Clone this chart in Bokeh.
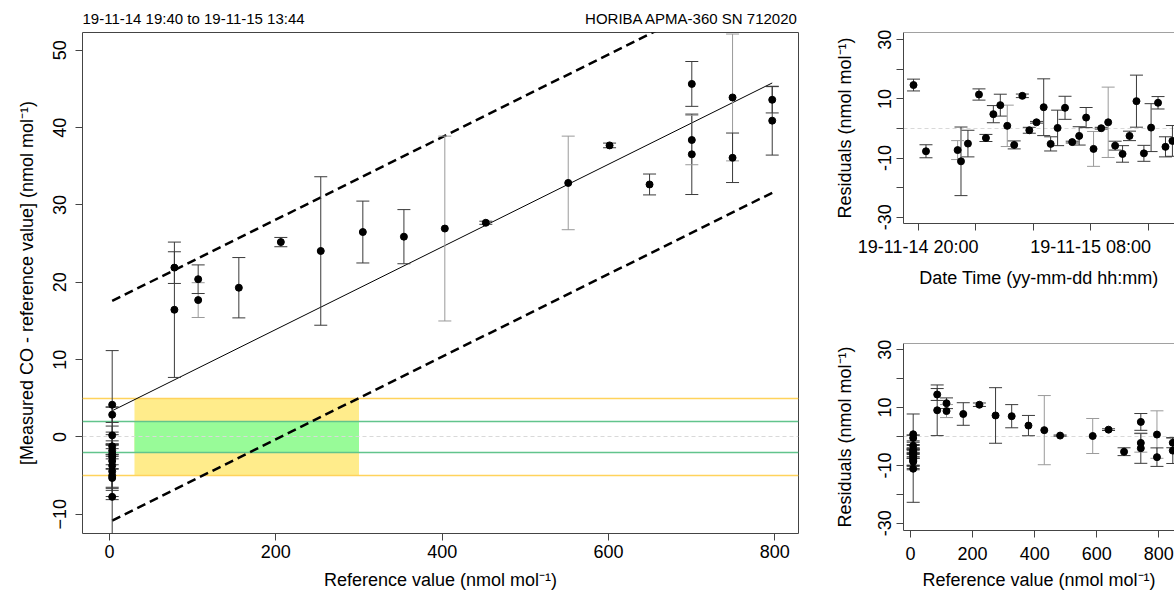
import pandas as pd
from bokeh.plotting import figure
from bokeh.layouts import row, column
from bokeh.models import ColumnDataSource, Range1d, FixedTicker, Span
from bokeh.core.properties import value
from bokeh.embed import file_html
from bokeh.resources import INLINE

FONT = "Liberation Sans"
INK = "#3a3a3a"
PALE = "#9a9a9a"
FRAME = "#444444"

# --- calibration points: reference value, measured - reference, uncertainty
ref_value = [3.2, 3.2, 3.2, 3.2, 3.2, 3.2, 3.2, 3.2, 3.2, 3.2, 3.2, 3.2, 3.2,
             78.0, 78.0, 106.6, 106.6, 155.5, 206.0, 254.0, 304.6, 354.0, 403.2,
             452.5, 551.6, 601.3, 649.4, 700.2, 700.2, 700.2, 749.2, 749.2,
             796.9, 796.9]
co_diff = [4.17, 2.88, 0.21, -1.21, -1.77, -2.24, -2.58, -3.1, -3.7, -4.44, -5.0, -5.3, -7.74,
           21.9, 16.45, 20.4, 17.7, 19.3, 25.2, 24.05, 26.5, 25.9, 26.95,
           27.7, 32.85, 37.7, 32.65, 45.65, 38.4, 36.55, 43.9, 36.1,
           43.6, 40.9]
co_unc = [7.0, 1.0, 1.2, 0.3, 2.4, 1.35, 1.5, 3.4, 3.2, 2.2, 2.7, 2.8, 11.6,
          2.05, 8.75, 1.85, 2.25, 3.9, 0.6, 9.6, 4.0, 3.5, 11.95,
          0.2, 6.05, 0.3, 1.35, 2.9, 3.2, 5.2, 8.2, 3.2,
          1.7, 4.45]
bar_tone = [INK] * 13 + [INK, INK, INK, PALE, INK, INK, INK, INK, INK, PALE,
                         INK, PALE, INK, INK, INK, PALE, INK, PALE, INK, INK, INK]
# abscissa of the residual-vs-reference panel
resid_ref = [8.7, 8.7, 8.7, 8.7, 8.7, 8.7, 8.7, 8.7, 8.7, 8.7, 8.7, 8.7, 8.7,
             86, 86, 116, 116, 170, 222, 274, 326, 380, 431,
             482, 587, 638, 688, 742, 742, 742, 794, 794,
             845, 845]

# --- straight-line fit and its prediction band
fit_a = 3.22
fit_b = 0.0534
band_half = 14.2

# --- acceptance zones
zone_lo, zone_hi = 30, 300
tol_outer = 5
tol_inner = 2

# --- residuals in time order
t_stamp = ["2019-11-14 19:41", "2019-11-14 20:33", "2019-11-14 22:45", "2019-11-14 22:59",
           "2019-11-14 23:28", "2019-11-15 00:14", "2019-11-15 00:43", "2019-11-15 01:14",
           "2019-11-15 01:43", "2019-11-15 02:12", "2019-11-15 02:41", "2019-11-15 03:15",
           "2019-11-15 03:44", "2019-11-15 04:14", "2019-11-15 04:44", "2019-11-15 05:13",
           "2019-11-15 05:42", "2019-11-15 06:13", "2019-11-15 06:43", "2019-11-15 07:12",
           "2019-11-15 07:41", "2019-11-15 08:12", "2019-11-15 08:44", "2019-11-15 09:13",
           "2019-11-15 09:42", "2019-11-15 10:13", "2019-11-15 10:42", "2019-11-15 11:11",
           "2019-11-15 11:42", "2019-11-15 12:12", "2019-11-15 12:41", "2019-11-15 13:12",
           "2019-11-15 13:41"]
t_resid = [14.7, -7.7, -7.3, -11.1, -5.1, 11.5, -3.2, 4.85, 7.9, 0.9, -5.55, 11.05,
           -0.6, 2.1, 7.2, -5.2, 0.2, 7.0, -4.6, -2.5, 3.7, -6.9, 0.1, 2.1,
           -5.8, -8.6, -2.5, 9.25, -8.4, 0.3, 8.7, -6.2, -4.2]
t_unc = [2.0, 2.2, 3.2, 11.6, 4.5, 1.9, 1.2, 2.9, 3.7, 7.0, 1.35, 0.6,
         1.0, 0.3, 9.6, 2.4, 6.0, 3.9, 0.3, 3.1, 3.4, 5.9, 0.3, 11.9,
         1.5, 2.8, 1.6, 8.8, 2.7, 8.1, 2.1, 3.4, 5.2]
t_tone = [INK, INK, PALE, INK, INK, INK, INK, INK, INK, PALE, INK, INK,
          INK, INK, INK, INK, INK, INK, INK, INK, INK, PALE, INK, PALE,
          INK, INK, INK, INK, INK, INK, INK, INK, INK]

# --- axes
main_xticks = [0, 200, 400, 600, 800]
main_yticks = [-10, 0, 10, 20, 30, 40, 50]
res_xticks = [0, 200, 400, 600, 800]
res_yticks = [-30, -20, -10, 0, 10, 20, 30]
res_ylabels = ["-30", "", "-10", "", "10", "", "30"]
time_ticks = ["2019-11-14 20:00", "2019-11-15 00:00", "2019-11-15 04:00",
              "2019-11-15 08:00", "2019-11-15 12:00"]
time_tick_labels = ["19-11-14 20:00", "", "", "19-11-15 08:00", ""]

title_left = "19-11-14 19:40 to 19-11-15 13:44"
title_right = "HORIBA APMA-360 SN 712020"
unit = "(nmol mol\u207b\u00b9)"


def style_axis(ax, label, tick_standoff, label_standoff, line=False):
    ax.axis_label = label
    ax.axis_label_text_font = FONT
    ax.axis_label_text_font_size = "18px"
    ax.axis_label_text_font_style = "normal"
    ax.axis_label_text_color = "black"
    ax.axis_label_standoff = label_standoff
    ax.major_label_text_font = FONT
    ax.major_label_text_font_size = "18px"
    ax.major_label_text_color = "black"
    ax.major_label_standoff = tick_standoff
    ax.major_tick_in = 0
    ax.major_tick_out = 7
    ax.major_tick_line_color = FRAME
    ax.minor_tick_line_color = None
    ax.axis_line_color = FRAME if line else None


def base_figure(width, height, xr, yr, left, right, top, bottom, xtype="linear"):
    f = figure(width=width, height=height, x_range=xr, y_range=yr,
               x_axis_type=xtype, output_backend="svg", toolbar_location=None,
               min_border_left=left, min_border_right=right,
               min_border_top=top, min_border_bottom=bottom)
    f.grid.visible = False
    f.background_fill_color = "white"
    f.border_fill_color = "white"
    return f


def draw_points(f, x, y, err, tone):
    src = ColumnDataSource(dict(
        x=x, y=y,
        lo=[v - e for v, e in zip(y, err)],
        hi=[v + e for v, e in zip(y, err)],
        c=tone))
    f.segment(x0="x", y0="lo", x1="x", y1="hi", line_color="c", line_width=1, source=src)
    f.scatter("x", "lo", marker="dash", size=13, line_color="c", line_width=1, source=src)
    f.scatter("x", "hi", marker="dash", size=13, line_color="c", line_width=1, source=src)
    f.scatter("x", "y", marker="circle", size=7, fill_color="black",
              line_color="black", source=src)


main_x = Range1d(-32.5, 828.5)

# ---------------- header strip: period on the left, instrument on the right ----------------
head = base_figure(810, 32, main_x, Range1d(0, 32), 82, 12, 0, 0)
head.outline_line_color = None
head.xaxis.visible = False
head.yaxis.visible = False
head.text(x=[main_x.start], y=[14], text=[title_left], text_align="left",
          text_baseline="middle", text_font=value(FONT), text_font_size="15px",
          text_color="black")
head.text(x=[main_x.end], y=[14], text=[title_right], text_align="right",
          text_baseline="middle", text_font=value(FONT), text_font_size="15px",
          text_color="black")

# ---------------- main panel ----------------
p = base_figure(810, 560, main_x, Range1d(-12.48, 52.3), 82, 12, 0, 58)
p.outline_line_color = FRAME
p.outline_line_width = 1

p.quad(left=[zone_lo], right=[zone_hi], bottom=[-tol_outer], top=[tol_outer],
       fill_color="#FFEC8B", line_color=None)
p.quad(left=[zone_lo], right=[zone_hi], bottom=[-tol_inner], top=[tol_inner],
       fill_color="#98FB98", line_color=None)
p.hspan(y=[-tol_outer, tol_outer], line_color="#FFD35C", line_width=1.5)
p.hspan(y=[-tol_inner, tol_inner], line_color="#62C48C", line_width=1.5)
p.hspan(y=[0], line_color="#d9d9d9", line_width=1, line_dash="4 3")

fx = [min(ref_value), max(ref_value)]
fy = [fit_a + fit_b * v for v in fx]
p.line(fx, fy, line_color="black", line_width=1)
p.line(fx, [v + band_half for v in fy], line_color="black", line_width=2.5, line_dash="9 5")
p.line(fx, [v - band_half for v in fy], line_color="black", line_width=2.5, line_dash="9 5")

draw_points(p, ref_value, co_diff, co_unc, bar_tone)

p.xaxis.ticker = FixedTicker(ticks=main_xticks)
p.yaxis.ticker = FixedTicker(ticks=main_yticks)
style_axis(p.xaxis[0], "Reference value " + unit, 4, 9)
style_axis(p.yaxis[0], "[Measured CO - reference value] " + unit, 9, 14)
p.yaxis.major_label_orientation = "vertical"

# ---------------- residuals vs time ----------------
t = pd.to_datetime(pd.Series(t_stamp))
tr = base_figure(364, 296,
                 Range1d(pd.Timestamp("2019-11-14 18:59:10"), pd.Timestamp("2019-11-15 13:49:40")),
                 Range1d(-32.13, 32.47), 93, 0, 32, 73, xtype="datetime")
tr.outline_line_color = None
tr.hspan(y=[0], line_color="#d9d9d9", line_width=1, line_dash="4 3")
draw_points(tr, t, t_resid, t_unc, t_tone)
tick_ms = [int(pd.Timestamp(s).value // 10**6) for s in time_ticks]
tr.xaxis.ticker = FixedTicker(ticks=tick_ms)
tr.xaxis.major_label_overrides = dict(zip(tick_ms, time_tick_labels))
tr.yaxis.ticker = FixedTicker(ticks=res_yticks)
tr.yaxis.major_label_overrides = dict(zip(res_yticks, res_ylabels))
style_axis(tr.xaxis[0], "Date Time (yy-mm-dd hh:mm)", 6, 8, line=True)
style_axis(tr.yaxis[0], "Residuals " + unit, 5, 21, line=True)
tr.yaxis.major_label_orientation = "vertical"
tr.add_layout(Span(location=tr.y_range.end, dimension="width", line_color=FRAME, line_width=1))

# ---------------- residuals vs reference ----------------
resid = [d - (fit_a + fit_b * r) for d, r in zip(co_diff, ref_value)]
br = base_figure(364, 296, Range1d(-22.55, 850.5), Range1d(-32.47, 32.13),
                 93, 0, 47, 58)
br.outline_line_color = None
br.hspan(y=[0], line_color="#d9d9d9", line_width=1, line_dash="4 3")
draw_points(br, resid_ref, resid, co_unc, bar_tone)
br.xaxis.ticker = FixedTicker(ticks=res_xticks)
br.yaxis.ticker = FixedTicker(ticks=res_yticks)
br.yaxis.major_label_overrides = dict(zip(res_yticks, res_ylabels))
style_axis(br.xaxis[0], "Reference value " + unit, 9, 7, line=True)
style_axis(br.yaxis[0], "Residuals " + unit, 5, 21, line=True)
br.yaxis.major_label_orientation = "vertical"
br.add_layout(Span(location=br.y_range.end, dimension="width", line_color=FRAME, line_width=1))

layout = row(column(head, p), column(tr, br))
open("out.html", "w").write(file_html(layout, INLINE))
